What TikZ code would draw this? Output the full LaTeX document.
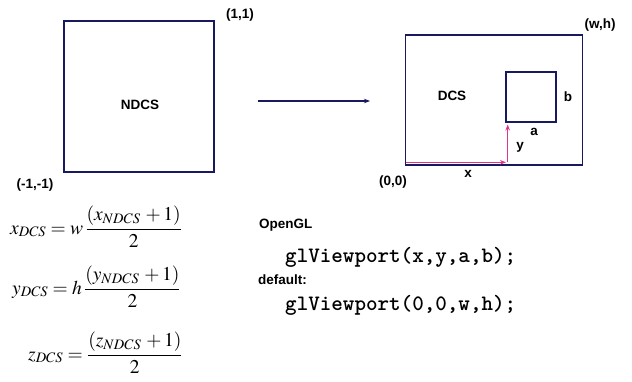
\documentclass[tikz,border=0pt]{standalone}
\usepackage{mathptmx}
\usepackage[no-math]{fontspec}
\setmainfont{Liberation Serif}
\newfontfamily\lblfont{Liberation Sans}
\usetikzlibrary{arrows.meta}
\definecolor{navy}{RGB}{25,25,95}
\definecolor{pinkc}{RGB}{225,50,140}
\tikzset{
  frame/.style={draw=navy, line width=1.4pt, inner sep=0pt},
  lbl/.style={font=\lblfont\bfseries\fontsize{13.5}{15}\selectfont, inner sep=0pt},
  code/.style={font=\ttfamily\bfseries\fontsize{22}{24}\selectfont, inner sep=0pt, anchor=west},
  eq/.style={font=\fontsize{19.5}{22}\selectfont, inner sep=0pt, anchor=base west},
  tip/.style={-{Stealth[length=6pt,width=4.5pt]}},
}
\begin{document}
\begin{tikzpicture}[x=1pt,y=-1pt]
\useasboundingbox (0,0) rectangle (632,381);
% NDCS box
\node[frame, minimum width=150pt, minimum height=151pt] (ndcs) at (139,96.5) {};
\node[lbl] (ndcslbl) at (140,105) {NDCS};
\node[lbl] (p11) at (240,15) {(1,1)};
\node[lbl] (pm11) at (35,185) {(-1,-1)};
% arrow
\coordinate (a1) at (258,101);
\coordinate (a2) at (370,101);
\draw[navy, line width=1.1pt, tip] (a1) -- (a2);
% DCS box
\node[frame, minimum width=177pt, minimum height=130pt] (dcs) at (494,100) {};
\node[lbl] (dcslbl) at (452,96) {DCS};
\node[lbl] (pwh) at (600,25) {(w,h)};
\node[lbl] (p00) at (393,182) {(0,0)};
% viewport box
\node[frame, minimum width=50pt, minimum height=50pt] (vp) at (531,97) {};
\node[lbl] (blbl) at (568,97) {b};
\node[lbl] (albl) at (534,132) {a};
\node[lbl] (ylbl) at (520,147) {y};
\node[lbl] (xlbl) at (468,174) {x};
% pink arrows
\coordinate (o) at (406,162.3);
\coordinate (ox) at (506,162.3);
\coordinate (yb) at (507.7,162.3);
\coordinate (yt) at (507.7,124.5);
\draw[pinkc, line width=1.2pt, tip] (o) -- (ox);
\draw[pinkc, line width=1.2pt, tip] (yb) -- (yt);
% equations
\node[eq] (e1) at (10,234) {$\displaystyle x_{DCS} = w\,\frac{(x_{NDCS}\,+1)}{2}$};
\node[eq] (e2) at (12,294) {$\displaystyle y_{DCS} = h\,\frac{(y_{NDCS}\,+1)}{2}$};
\node[eq] (e3) at (28,360) {$\displaystyle z_{DCS} = \frac{(z_{NDCS}\,+1)}{2}$};
% OpenGL text
\node[lbl, anchor=west] (ogl) at (259,225) {OpenGL};
\node[code] (c1) at (285,257) {glViewport(x,y,a,b);};
\node[lbl, anchor=west] (def) at (258,280) {default:};
\node[code] (c2) at (285,305) {glViewport(0,0,w,h);};
\end{tikzpicture}
\end{document}
